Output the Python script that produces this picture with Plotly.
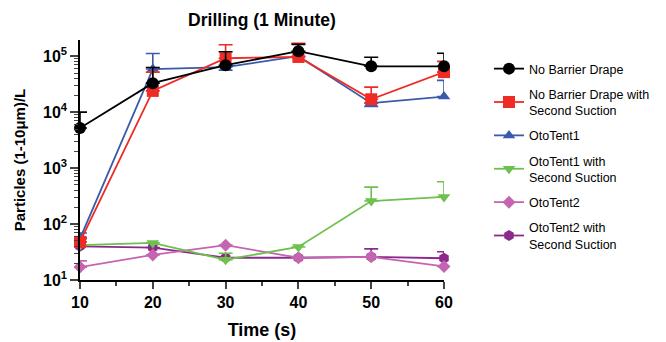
import plotly.graph_objects as go

time_s = [10, 20, 30, 40, 50, 60]

names = ["No Barrier Drape", "No Barrier Drape with<br>Second Suction", "OtoTent1",
         "OtoTent1 with<br>Second Suction", "OtoTent2", "OtoTent2 with<br>Second Suction"]

no_barrier = [5200, 33000, 69000, 123000, 66000, 66000]
no_barrier_err = [4800, 30000, 51000, 40000, 30000, 47000]

no_barrier_ss = [48, 24000, 92000, 97000, 17000, 52000]
no_barrier_ss_err = [10, 28000, 68000, 73000, 11000, 29000]

ototent1 = [55, 59000, 64000, 100000, 14500, 19000]
ototent1_err = [14, 53000, 0, 0, 0, 18000]
ototent1_errm = [0, 0, 8000, 0, 1800, 0]

ototent1_ss = [42, 46, 23, 39, 258, 305]
ototent1_ss_err = [0, 0, 7, 0, 200, 265]

ototent2 = [17, 28, 42, 25, 26, 17.5]
ototent2_err = [5, 0, 0, 0, 0, 0]

ototent2_ss = [40, 38, 25, 25, 26, 24.5]
ototent2_ss_err = [0, 0, 0, 0, 10, 7.5]

colors = ["#000000", "#EE2B25", "#3A5BAA", "#6DC14C", "#C564B0", "#8C2A8C"]
symbols = ["circle", "square", "triangle-up", "triangle-down", "diamond", "hexagon"]
sizes = [12, 12, 11, 11, 10, 11]

values = [no_barrier, no_barrier_ss, ototent1, ototent1_ss, ototent2, ototent2_ss]
errs_p = [no_barrier_err, no_barrier_ss_err, ototent1_err, ototent1_ss_err, ototent2_err, ototent2_ss_err]
errs_m = [[0]*6, [0]*6, ototent1_errm, [0]*6, [0]*6, [0]*6]

fig = go.Figure()
for i in reversed(range(6)):
    fig.add_trace(go.Scatter(
        x=time_s, y=values[i], name=names[i], mode="lines+markers",
        line=dict(color=colors[i], width=1.8),
        marker=dict(symbol=symbols[i], size=sizes[i], color=colors[i]),
        error_y=dict(type="data", symmetric=False, array=errs_p[i], arrayminus=errs_m[i],
                     color=colors[i], thickness=1.6, width=7),
        legendgroup=str(i), legendrank=i + 1,
        cliponaxis=False,
    ))

minor_vals = [m * 10 ** d for d in range(1, 6) for m in range(2, 10)]

fig.update_layout(
    width=666, height=342,
    margin=dict(l=72, r=230, t=32, b=70),
    paper_bgcolor="white", plot_bgcolor="white",
    font=dict(family="Liberation Sans, Arial, sans-serif", color="black"),
    title=dict(text="<b>Drilling (1 Minute)</b>", x=254 / 666, xanchor="center",
               y=1 - 12 / 342, yanchor="middle", font=dict(size=17.5), automargin=False),
    xaxis=dict(range=[10, 60], tickvals=time_s, ticktext=["<b>%d</b>" % t for t in time_s],
               ticks="outside", ticklen=7, tickwidth=1.5, linecolor="black", linewidth=1.5,
               showgrid=False, zeroline=False, tickfont=dict(size=16), automargin=False,
               minor=dict(ticks="outside", ticklen=4, tickwidth=1.5, dtick=5, showgrid=False),
               title=dict(text="<b>Time (s)</b>", font=dict(size=18), standoff=13)),
    yaxis=dict(type="log", range=[1, 5.29],
               tickvals=[10, 100, 1000, 10000, 100000],
               ticktext=["<b>10<sup>%d</sup></b>" % d for d in range(1, 6)],
               ticks="outside", ticklen=8, tickwidth=1.5, linecolor="black", linewidth=1.5,
               showgrid=False, zeroline=False, tickfont=dict(size=16), automargin=False,
               minor=dict(ticks="outside", ticklen=4, tickwidth=1, tickvals=minor_vals, showgrid=False),
               title=dict(text="<b>Particles (1-10μm)/L</b>", font=dict(size=15), standoff=14)),
    legend=dict(x=1 + 45 / 364, xanchor="left", y=1 - 14 / 240, yanchor="top",
                font=dict(size=12.5), tracegroupgap=6, itemwidth=30,
                traceorder="grouped"),
)

fig.write_html("out.html")
